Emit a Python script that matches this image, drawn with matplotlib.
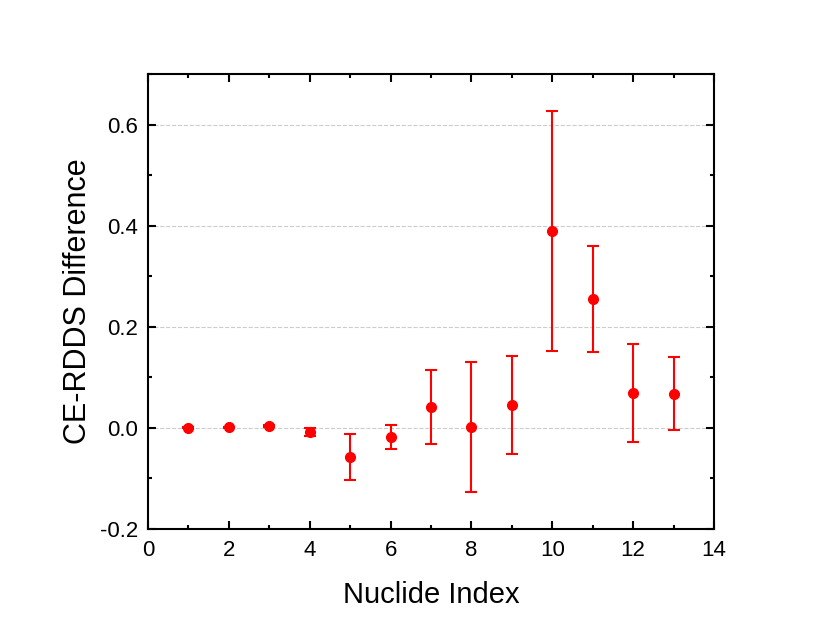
import matplotlib
matplotlib.use("Agg")
import matplotlib.pyplot as plt
from matplotlib.ticker import MultipleLocator

plt.rcParams['font.family'] = ['Liberation Sans', 'DejaVu Sans']

# data
index = [1, 2, 3, 4, 5, 6, 7, 8, 9, 10, 11, 12, 13]
diff = [0.000, 0.001, 0.004, -0.009, -0.058, -0.018, 0.041, 0.002, 0.046, 0.390, 0.255, 0.069, 0.068]
err = [0.001, 0.001, 0.002, 0.008, 0.045, 0.023, 0.073, 0.129, 0.097, 0.237, 0.105, 0.097, 0.072]

fig = plt.figure(figsize=(8.3, 6.35), dpi=100)
ax = fig.add_axes([148 / 830, 1 - 529 / 635, (714 - 148) / 830, (529 - 74) / 635])

ax.errorbar(index, diff, yerr=err, fmt='o', color='red', ecolor='red',
            markersize=7, elinewidth=1.5, capsize=4.5, capthick=1.5, zorder=3)

ax.set_xlim(0, 14)
ax.set_ylim(-0.2, 0.7)
ax.xaxis.set_major_locator(MultipleLocator(2))
ax.xaxis.set_minor_locator(MultipleLocator(1))
ax.yaxis.set_major_locator(MultipleLocator(0.2))
ax.yaxis.set_minor_locator(MultipleLocator(0.1))
ax.yaxis.set_major_formatter(plt.FuncFormatter(lambda v, p: f"{v:.1f}"))

ax.tick_params(which='both', direction='in', top=True, right=True, width=1.5, labelsize=16)
ax.tick_params(which='major', length=6)
ax.tick_params(which='minor', length=3)
ax.tick_params(axis='x', pad=8)
ax.tick_params(axis='y', pad=7)
for sp in ax.spines.values():
    sp.set_linewidth(1.5)

for v in [0.0, 0.2, 0.4, 0.6]:
    ax.axhline(v, color='#cccccc', linestyle='--', linewidth=0.8, zorder=0)

ax.set_xlabel("Nuclide Index", fontsize=21, labelpad=14)
ax.set_ylabel("CE-RDDS Difference", fontsize=22, labelpad=5)

fig.savefig("out.png", dpi=100)
